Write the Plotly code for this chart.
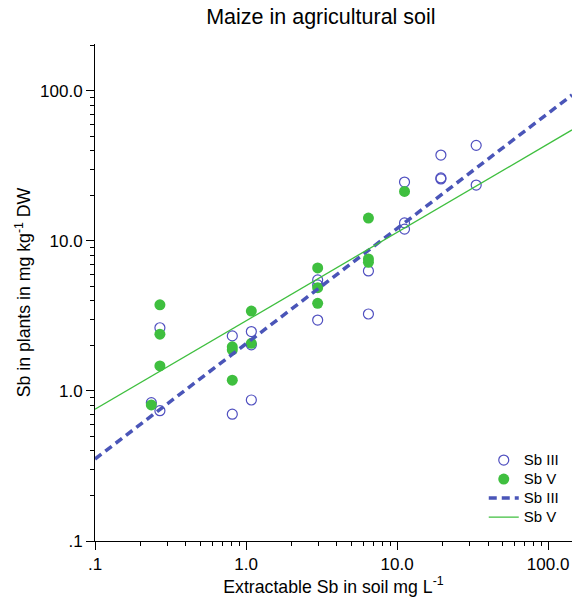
import plotly.graph_objects as go

# Sb III (open circles)
sb3_x = [0.236, 0.269, 0.269, 0.811, 0.811, 1.084, 1.084, 1.084,
         2.98, 2.98, 2.98, 6.46, 6.46, 11.2, 11.2, 11.2,
         19.5, 19.5, 19.5, 33.4, 33.4]
sb3_y = [0.836, 2.64, 0.739, 2.33, 0.70, 2.49, 2.03, 0.871,
         5.5, 5.09, 2.97, 6.31, 3.26, 24.7, 13.2, 12.0,
         37.4, 26.3, 25.9, 43.4, 23.6]

# Sb V (filled circles)
sb5_x = [0.236, 0.269, 0.269, 0.269, 0.811, 0.811, 0.811, 1.084, 1.084,
         2.98, 2.98, 2.98, 6.46, 6.46, 6.46, 11.2]
sb5_y = [0.807, 3.75, 2.39, 1.47, 1.97, 1.88, 1.18, 3.41, 2.08,
         6.61, 4.88, 3.84, 14.2, 7.59, 7.21, 21.4]

# regression lines (end points)
fit_x = [0.1, 144]
fit_sb3 = [0.352, 94]
fit_sb5 = [0.755, 55]

tick_vals = [0.1, 1, 10, 100]
tick_text = [".1", "1.0", "10.0", "100.0"]
minor_vals = [m * d for d in [0.1, 1, 10, 100] for m in range(2, 10)]

blue = "#5050c0"
green = "#3fbf3f"


def leg(name):
    return "<span style='font-size:15px'>" + name + "</span>"


fig = go.Figure()
fig.add_trace(go.Scatter(x=sb3_x, y=sb3_y, mode="markers", name=leg("Sb III"),
                         marker=dict(symbol="circle-open", size=10,
                                     color=blue, line=dict(width=1.2, color=blue))))
fig.add_trace(go.Scatter(x=sb5_x, y=sb5_y, mode="markers", name=leg("Sb V"),
                         marker=dict(symbol="circle", size=11, color=green)))
fig.add_trace(go.Scatter(x=fit_x, y=fit_sb3, mode="lines", name=leg("Sb III"),
                         line=dict(color="#4a55b8", width=3.5, dash="8px,5px")))
fig.add_trace(go.Scatter(x=fit_x, y=fit_sb5, mode="lines", name=leg("Sb V"),
                         line=dict(color=green, width=1.3)))

axis_common = dict(
    type="log", showgrid=False, zeroline=False, showline=True,
    linecolor="black", linewidth=1, ticks="outside", ticklen=8,
    tickcolor="black", tickwidth=1, tickmode="array",
    tickvals=tick_vals, ticktext=tick_text, automargin=False,
    tickfont=dict(size=17, color="black"),
    minor=dict(ticks="outside", ticklen=4, tickcolor="black",
               tickmode="array", tickvals=minor_vals, showgrid=False),
)

fig.update_layout(
    width=572, height=600,
    margin=dict(l=95, r=0, t=44, b=59),
    paper_bgcolor="white", plot_bgcolor="white",
    font=dict(family="Liberation Sans, Arial, sans-serif", color="black"),
    title=dict(text="Maize in agricultural soil", x=0.561, xanchor="center",
               y=0.972, yanchor="middle", font=dict(size=21.5)),
    xaxis=dict(axis_common, range=[-1, 2.158],
               title=dict(text="Extractable Sb in soil mg L<sup>-1</sup>",
                          font=dict(size=17.7), standoff=2)),
    yaxis=dict(axis_common, range=[-1, 2.313],
               title=dict(text="Sb in plants in mg kg<sup>-1</sup> DW",
                          font=dict(size=17.7), standoff=4)),
    legend=dict(x=0.815, y=0.192, xanchor="left", yanchor="top",
                bgcolor="rgba(0,0,0,0)", font=dict(size=12),
                tracegroupgap=0, itemwidth=30),
    showlegend=True,
)

fig.write_html("out.html",
               config={"displayModeBar": False},
               post_script="document.body.style.margin='0';document.body.style.overflow='hidden';")
